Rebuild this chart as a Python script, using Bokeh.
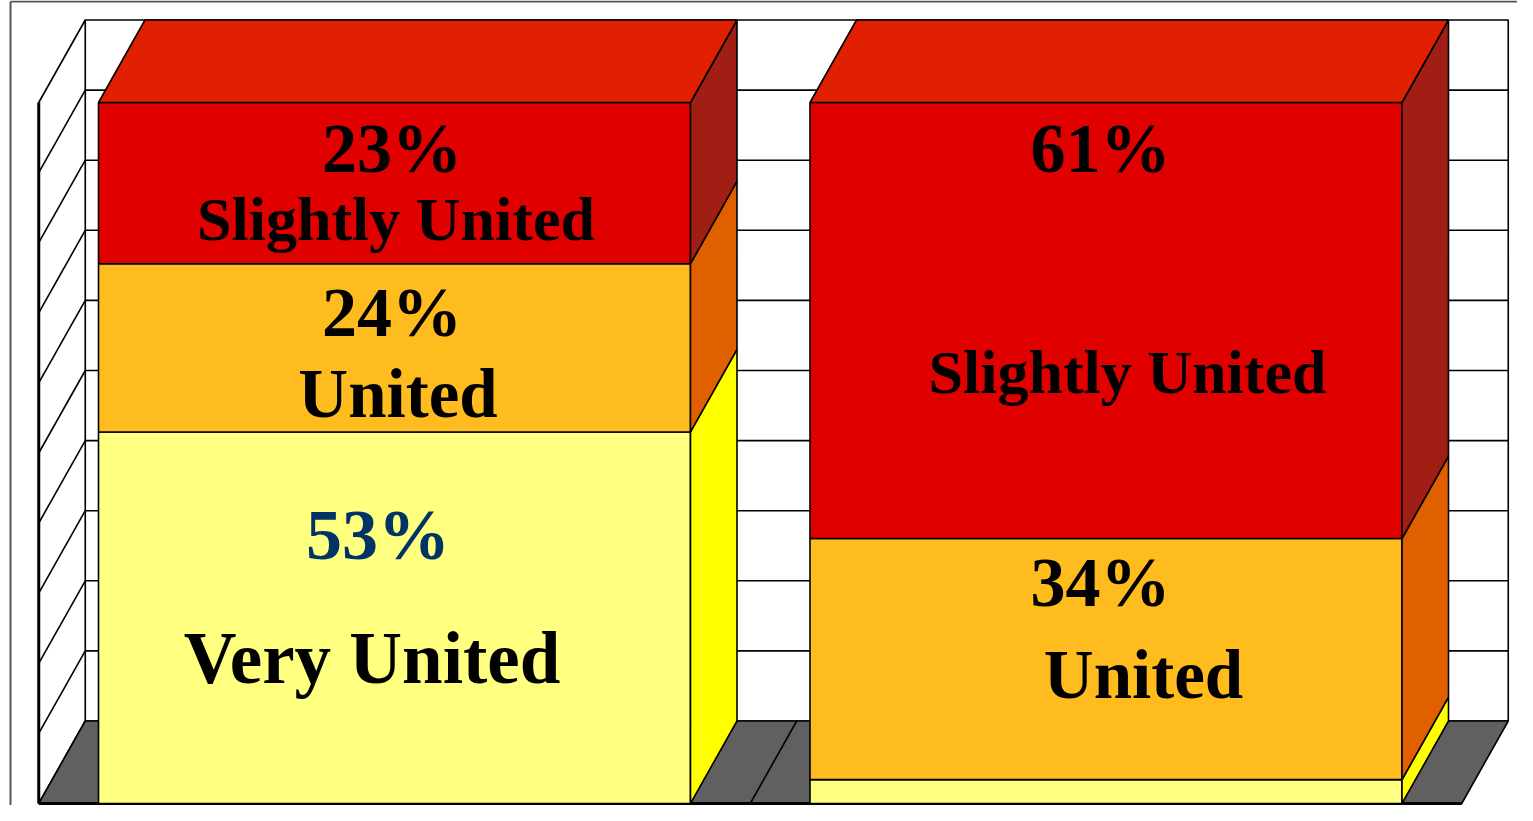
from bokeh.plotting import figure
from bokeh.models import Range1d
from bokeh.embed import file_html
from bokeh.resources import INLINE
from bokeh.core.properties import value

# ---------------- data ----------------
categories = ["Group 1", "Group 2"]
segments = ["Very United", "United", "Slightly United"]
bar1_values = [53, 24, 23]
bar2_values = [3.4, 34.4, 62.2]
bar1_pct_labels = ["53%", "24%", "23%"]
bar2_pct_labels = ["", "34%", "61%"]
bar1_name_labels = ["Very United", "United", "Slightly United"]
bar2_name_labels = ["", "United", "Slightly United"]
grid_ticks = [10, 20, 30, 40, 50, 60, 70, 80, 90]
axis_max = 100

# ---------------- styles / geometry ----------------
front_colors = ["#FFFF80", "#FFBC1E", "#E00000"]
side_colors = ["#FFFF00", "#E06000", "#A01E14"]
top_color = "#E02000"
floor_color = "#606060"
pct_colors = ["#003366", "black", "black"]

W, H = 1517, 805
PX_PER_PCT = 7.01
PX_PER_CAT = 711.5
bar_width = 592 / PX_PER_CAT
dx = 46.5 / PX_PER_CAT
dy = 82.5 / PX_PER_PCT

x0 = 1 - 394 / PX_PER_CAT
x1 = x0 + W / PX_PER_CAT
y1 = 803 / PX_PER_PCT
y0 = y1 - H / PX_PER_PCT

p = figure(width=W, height=H, output_backend="svg", toolbar_location=None,
           x_range=Range1d(x0, x1), y_range=Range1d(y0, y1),
           x_axis_type=None, y_axis_type=None, min_border=0,
           outline_line_color=None, background_fill_color="white",
           border_fill_color="white")
p.xgrid.visible = False
p.ygrid.visible = False

lo, hi = 0.5, len(categories) + 0.5
LW = 1.6

# back wall
p.patch([lo + dx, hi + dx, hi + dx, lo + dx], [dy, dy, axis_max + dy, axis_max + dy],
        fill_color="white", line_color="black", line_width=LW)
# left wall
p.patch([lo, lo, lo + dx, lo + dx], [0, axis_max, axis_max + dy, dy],
        fill_color="white", line_color="black", line_width=LW)
# floor
p.patch([lo, hi, hi + dx, lo + dx], [0, 0, dy, dy],
        fill_color=floor_color, line_color="black", line_width=LW)
# floor category divider
for k in range(1, len(categories)):
    p.segment(x0=[lo + k], y0=[0], x1=[lo + k + dx], y1=[dy], line_color="black", line_width=LW)
# gridlines on back & left walls
p.segment(x0=[lo + dx] * len(grid_ticks), y0=[t + dy for t in grid_ticks],
          x1=[hi + dx] * len(grid_ticks), y1=[t + dy for t in grid_ticks],
          line_color="black", line_width=LW)
p.segment(x0=[lo] * len(grid_ticks), y0=grid_ticks,
          x1=[lo + dx] * len(grid_ticks), y1=[t + dy for t in grid_ticks],
          line_color="black", line_width=LW)
# thick front edges
p.segment(x0=[lo, lo], y0=[0, 0], x1=[hi, lo], y1=[0, axis_max], line_color="black", line_width=3)

# bars
all_values = [bar1_values, bar2_values]
for i, vals in enumerate(all_values):
    c = i + 1
    l, r = c - bar_width / 2, c + bar_width / 2
    bottom = 0
    for j, v in enumerate(vals):
        top = bottom + v
        p.quad(left=[l], right=[r], bottom=[bottom], top=[top],
               fill_color=front_colors[j], line_color="black", line_width=LW)
        p.patch([r, r + dx, r + dx, r], [bottom, bottom + dy, top + dy, top],
                fill_color=side_colors[j], line_color="black", line_width=LW)
        bottom = top
    p.patch([l, r, r + dx, l + dx], [bottom, bottom, bottom + dy, bottom + dy],
            fill_color=top_color, line_color="black", line_width=LW)

# labels: anchored at segment middles, offsets in screen px
FONT = value("Liberation Serif")
pct_sizes = [["72px", "70px", "70px"], ["70px", "70px", "70px"]]
name_sizes = [["73px", "69px", "62px"], ["62px", "69px", "62px"]]
pct_off = [[(-16.5, -83.2), (-2.5, -35.4), (-2.5, -34.6)],
           [(0, 0), (-5.5, -76.6), (-5.5, -172.3)]]
name_off = [[(-22.5, 40.8), (3.5, 46.3), (1.5, 35.4)],
            [(0, 0), (37.5, 16.4), (21.5, 51.0)]]
pct_labels = [bar1_pct_labels, bar2_pct_labels]
name_labels = [bar1_name_labels, bar2_name_labels]
for i, vals in enumerate(all_values):
    c = i + 1
    bottom = 0
    for j, v in enumerate(vals):
        mid = bottom + v / 2
        bottom += v
        if pct_labels[i][j]:
            ox, oy = pct_off[i][j]
            p.text(x=[c], y=[mid], text=[pct_labels[i][j]], x_offset=ox, y_offset=oy,
                   text_font=FONT, text_font_style="bold", text_font_size=pct_sizes[i][j],
                   text_color=pct_colors[j] if i == 0 else "black",
                   text_align="center", text_baseline="alphabetic")
        if name_labels[i][j]:
            ox, oy = name_off[i][j]
            p.text(x=[c], y=[mid], text=[name_labels[i][j]], x_offset=ox, y_offset=oy,
                   text_font=FONT, text_font_style="bold", text_font_size=name_sizes[i][j],
                   text_color="black", text_align="center", text_baseline="alphabetic")

# outer chart border (top and left)
bx = 1 - 384 / PX_PER_CAT
by = 802 / PX_PER_PCT
p.segment(x0=[bx, bx], y0=[by, by], x1=[x1, bx], y1=[by, y0],
          line_color="#555555", line_width=2)

open("out.html", "w").write(file_html(p, INLINE))
